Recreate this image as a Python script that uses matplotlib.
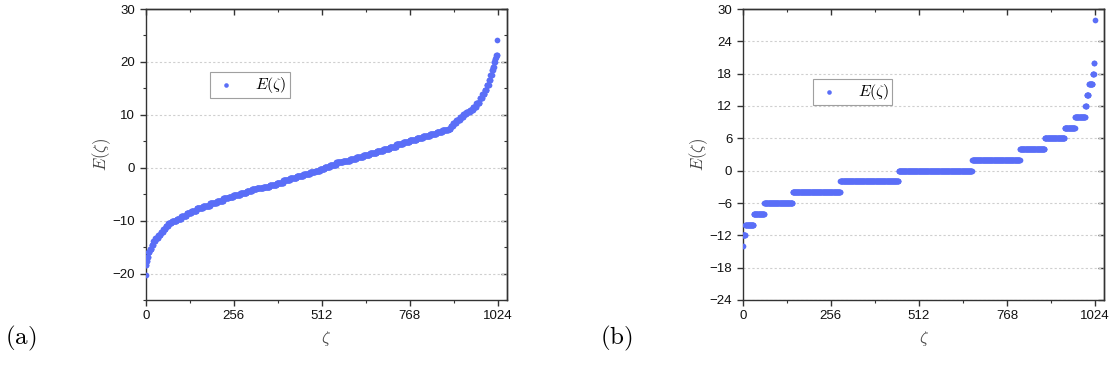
import numpy as np
import matplotlib.pyplot as plt
from matplotlib.ticker import MultipleLocator

niveis_a = [-20.3, -18.3, -17.6, -16.8, -16.0, -15.3, -14.6, -13.9, -13.3, -12.7,
            -12.1, -11.5, -11.0, -10.5, -10.0, -9.6, -9.1, -8.5, -8.1, -7.7,
            -7.2, -6.7, -6.3, -5.8, -5.5, -5.2, -4.8, -4.4, -4.1, -3.9,
            -3.6, -3.3, -2.8, -2.3, -1.9, -1.6, -1.2, -0.9, -0.6, -0.3,
            0.2, 0.6, 1.0, 1.3, 1.7, 2.1, 2.4, 2.8, 3.2, 3.6,
            4.0, 4.4, 4.8, 5.2, 5.6, 6.0, 6.4, 6.8, 7.1, 7.4,
            7.9, 8.5, 9.1, 9.6, 10.1, 10.5, 11.0, 11.5, 12.3, 13.1,
            13.9, 14.7, 15.6, 16.6, 17.5, 18.4, 19.1, 19.9, 20.6, 21.0,
            21.4, 24.2]
contagens_a = [1, 2, 2, 3, 4, 5, 5, 6, 9, 7,
               7, 7, 8, 10, 14, 14, 15, 14, 15, 19,
               20, 20, 19, 15, 14, 20, 19, 15, 14, 19,
               19, 20, 19, 20, 19, 20, 19, 15, 14, 14,
               15, 19, 19, 20, 19, 20, 19, 20, 19, 19,
               19, 20, 19, 20, 19, 20, 19, 17, 17, 7,
               7, 10, 10, 10, 9, 10, 9, 10, 10, 7,
               7, 6, 7, 4, 4, 3, 3, 3, 2, 2,
               3, 1]

# painel (b): energias inteiras (pares) e degenerescências
niveis_b = [-14, -12, -10, -8, -6, -4, -2, 0, 2, 4, 6, 8, 10, 12, 14, 16, 18, 20, 28]
contagens_b = [1, 7, 24, 31, 82, 139, 169, 214, 139, 72, 58, 30, 30, 4, 6, 11, 4, 2, 1]

cor = '#5a6ef7'

plt.rcParams['mathtext.fontset'] = 'cm'
plt.rcParams['font.family'] = 'Liberation Sans'

fig = plt.figure(figsize=(11.1, 3.8), dpi=100)
ax_a = fig.add_axes([145.7 / 1110, 80 / 380, 361.3 / 1110, 291 / 380])
ax_b = fig.add_axes([742.7 / 1110, 80 / 380, 361.6 / 1110, 291 / 380])


def desenhar(ax, niveis, contagens, ylim, passo_y, menor_y):
    E = np.repeat(niveis, contagens)
    zeta = np.arange(len(E))
    ax.scatter(zeta, E, s=17, color=cor, linewidths=0, zorder=3, label=r'$E(\zeta)$')
    ax.set_xlim(0, 1051)
    ax.set_ylim(*ylim)
    ax.set_xticks([0, 256, 512, 768, 1024])
    ax.xaxis.set_minor_locator(MultipleLocator(128))
    ax.yaxis.set_major_locator(MultipleLocator(passo_y))
    if menor_y:
        ax.yaxis.set_minor_locator(MultipleLocator(menor_y))
    ax.yaxis.grid(True, which='major', color='#cfcfcf', lw=0.8, ls=(0, (2, 2)), zorder=1)
    ax.set_axisbelow(True)
    for s in ax.spines.values():
        s.set_color('#333333')
        s.set_linewidth(1.0)
    ax.tick_params(which='both', labelsize=9.5, color='#333333', labelcolor='#111111')
    ax.tick_params(which='major', length=4, width=1.0)
    ax.tick_params(which='minor', length=2.5, width=0.8)
    ax.set_xlabel(r'$\zeta$', fontsize=12, color='#444444', labelpad=5)
    ax.set_ylabel(r'$E(\zeta)$', fontsize=12, color='#444444', labelpad=0)
    # eixos espelhados no topo e à direita, com marcas para dentro
    sec_x = ax.secondary_xaxis('top')
    sec_x.set_xticks([0, 256, 512, 768, 1024])
    sec_x.xaxis.set_minor_locator(MultipleLocator(128))
    sec_x.tick_params(which='both', direction='in', labeltop=False, color='#333333')
    sec_x.tick_params(which='major', length=4, width=1.0)
    sec_x.tick_params(which='minor', length=2.5, width=0.8)
    sec_x.spines['top'].set_linewidth(1.0)
    sec_x.spines['top'].set_color('#333333')
    sec_y = ax.secondary_yaxis('right')
    sec_y.yaxis.set_major_locator(MultipleLocator(passo_y))
    if menor_y:
        sec_y.yaxis.set_minor_locator(MultipleLocator(menor_y))
    sec_y.tick_params(which='both', direction='in', labelright=False, color='#333333')
    sec_y.tick_params(which='major', length=4, width=1.0)
    sec_y.tick_params(which='minor', length=2.5, width=0.8)
    sec_y.spines['right'].set_linewidth(1.0)
    sec_y.spines['right'].set_color('#333333')


desenhar(ax_a, niveis_a, contagens_a, (-25, 30), 10, 5)
desenhar(ax_b, niveis_b, contagens_b, (-24, 30), 6, None)

for ax, pos in [(ax_a, (0.178, 0.739)), (ax_b, (0.194, 0.715))]:
    leg = ax.legend(loc='center left', bbox_to_anchor=pos, borderaxespad=0, fontsize=11.5,
                    frameon=True, fancybox=False, edgecolor='#888888', handletextpad=1.0,
                    borderpad=0.2, handlelength=1.6, markerscale=0.8)
    leg.get_frame().set_linewidth(0.8)

fig.text(5 / 1110, 1 - 338 / 380, r'$\mathrm{(a)}$', fontsize=18, va='center', ha='left')
fig.text(600 / 1110, 1 - 338 / 380, r'$\mathrm{(b)}$', fontsize=18, va='center', ha='left')

fig.savefig('out.png', dpi=100)
